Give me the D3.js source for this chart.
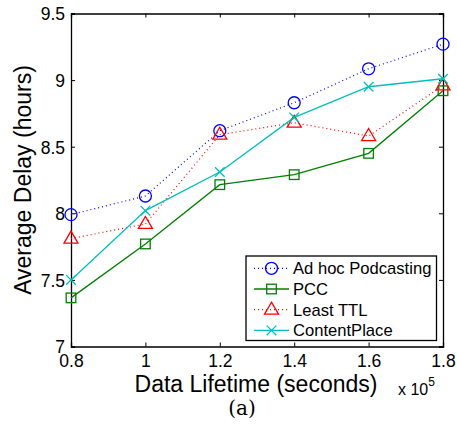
<!DOCTYPE html>
<html>
<head>
<meta charset="utf-8">
<script src="https://cdn.jsdelivr.net/npm/d3@7"></script>
<style>
  html, body { margin: 0; padding: 0; background: #fff; }
  svg { display: block; font-family: "Liberation Sans", Arial, sans-serif; }
</style>
</head>
<body>
<svg id="chart" width="457" height="429"></svg>
<script>
// Data lifetime (x 10^5 seconds)
const lifetimes = [0.8, 1.0, 1.2, 1.4, 1.6, 1.8];
// Average delay (hours) per scheme
const adhocPodcasting = [7.99, 8.13, 8.62, 8.83, 9.085, 9.27];
const pcc = [7.365, 7.77, 8.215, 8.29, 8.45, 8.92];
const leastTTL = [7.81, 7.92, 8.59, 8.68, 8.58, 8.96];
const contentPlace = [7.50, 8.02, 8.31, 8.72, 8.95, 9.01];

const seriesNames = ["Ad hoc Podcasting", "PCC", "Least TTL", "ContentPlace"];
const xTicks = [0.8, 1, 1.2, 1.4, 1.6, 1.8];
const yTicks = [7, 7.5, 8, 8.5, 9, 9.5];

const series = [
  { name: seriesNames[0], values: adhocPodcasting, color: "#0000ff", dash: "1,3", marker: "circle" },
  { name: seriesNames[1], values: pcc, color: "#008000", dash: null, marker: "square" },
  { name: seriesNames[2], values: leastTTL, color: "#ff0000", dash: "1,3", marker: "triangle" },
  { name: seriesNames[3], values: contentPlace, color: "#00bfbf", dash: null, marker: "cross" }
];

const svg = d3.select("#chart");
const plotLeft = 71, plotRight = 443, plotTop = 13.5, plotBottom = 346.5;

const x = d3.scaleLinear().domain([0.8, 1.8]).range([plotLeft, plotRight]);
const y = d3.scaleLinear().domain([7, 9.5]).range([plotBottom, plotTop]);

// Axes with inward ticks on all four sides
const fmt = d => String(d);
const axB = svg.append("g").attr("transform", `translate(0,${plotBottom})`)
  .call(d3.axisBottom(x).tickValues(xTicks).tickSize(-4).tickPadding(6.5).tickFormat(fmt));
const axT = svg.append("g").attr("transform", `translate(0,${plotTop})`)
  .call(d3.axisTop(x).tickValues(xTicks).tickSize(-4).tickFormat(""));
const axL = svg.append("g").attr("transform", `translate(${plotLeft},0)`)
  .call(d3.axisLeft(y).tickValues(yTicks).tickSize(-4).tickPadding(6).tickFormat(fmt));
const axR = svg.append("g").attr("transform", `translate(${plotRight},0)`)
  .call(d3.axisRight(y).tickValues(yTicks).tickSize(-4).tickFormat(""));

[axB, axT, axL, axR].forEach(g => {
  g.select(".domain").attr("stroke", "#000").attr("stroke-width", 1.3);
  g.selectAll(".tick line").attr("stroke", "#000").attr("stroke-width", 1);
  g.selectAll(".tick text").attr("fill", "#000")
    .style("font-family", "'Liberation Sans', Arial, sans-serif").style("font-size", "17.5px");
});
axB.selectAll(".tick text").attr("dy", "0.8em");
axL.selectAll(".tick text").attr("dy", "0.36em");

// Series lines
const line = d3.line().x((d, i) => x(lifetimes[i])).y(d => y(d));

function drawMarker(g, type, cx, cy, color) {
  if (type === "circle") {
    g.append("circle").attr("cx", cx).attr("cy", cy).attr("r", 6)
      .attr("fill", "none").attr("stroke", color).attr("stroke-width", 1.3);
  } else if (type === "square") {
    g.append("rect").attr("x", cx - 4.8).attr("y", cy - 4.8).attr("width", 9.6).attr("height", 9.6)
      .attr("fill", "none").attr("stroke", color).attr("stroke-width", 1.3);
  } else if (type === "triangle") {
    g.append("path").attr("d", `M${cx},${cy - 7.5}L${cx + 7},${cy + 4.5}L${cx - 7},${cy + 4.5}Z`)
      .attr("fill", "none").attr("stroke", color).attr("stroke-width", 1.3);
  } else if (type === "cross") {
    const s = 4.8;
    g.append("path").attr("d", `M${cx - s},${cy - s}L${cx + s},${cy + s}M${cx - s},${cy + s}L${cx + s},${cy - s}`)
      .attr("fill", "none").attr("stroke", color).attr("stroke-width", 1.3);
  }
}

const plot = svg.append("g");
series.forEach(s => {
  plot.append("path").datum(s.values).attr("d", line)
    .attr("fill", "none").attr("stroke", s.color).attr("stroke-width", s.dash ? 1.2 : 1.3)
    .attr("stroke-dasharray", s.dash);
});
series.forEach(s => {
  const g = plot.append("g");
  s.values.forEach((v, i) => drawMarker(g, s.marker, x(lifetimes[i]), y(v), s.color));
});

// Legend
const lg = svg.append("g");
lg.append("rect").attr("x", 246).attr("y", 256).attr("width", 190.5).attr("height", 84.5)
  .attr("fill", "#fff").attr("stroke", "#000").attr("stroke-width", 1.3);
series.forEach((s, i) => {
  const cy = 268.3 + i * 20.7;
  lg.append("line").attr("x1", 254).attr("x2", 289).attr("y1", cy).attr("y2", cy)
    .attr("stroke", s.color).attr("stroke-width", s.dash ? 1.2 : 1.3).attr("stroke-dasharray", s.dash);
  drawMarker(lg, s.marker, 271.5, cy, s.color);
  lg.append("text").attr("x", 293).attr("y", cy).attr("dy", "0.36em")
    .style("font-size", "16.6px").attr("fill", "#000").text(s.name);
});

// Axis titles
svg.append("text").attr("x", 256).attr("y", 392).attr("text-anchor", "middle")
  .style("font-size", "23px").attr("fill", "#000").text("Data Lifetime (seconds)");
svg.append("text").attr("transform", "translate(31,180) rotate(-90)").attr("text-anchor", "middle")
  .style("font-size", "23px").attr("fill", "#000").text("Average Delay (hours)");

// Exponent of the x axis
const ex = svg.append("text").attr("x", 398).attr("y", 395).style("font-size", "16px").attr("fill", "#000");
ex.append("tspan").text("x 10");
ex.append("tspan").attr("dy", -9).style("font-size", "12px").text("5");

// Subfigure caption
svg.append("text").attr("x", 242).attr("y", 415).attr("text-anchor", "middle")
  .style("font-family", "'DejaVu Serif', 'Liberation Serif', serif").style("font-size", "20px")
  .attr("fill", "#000").text("(a)");
</script>
</body>
</html>
